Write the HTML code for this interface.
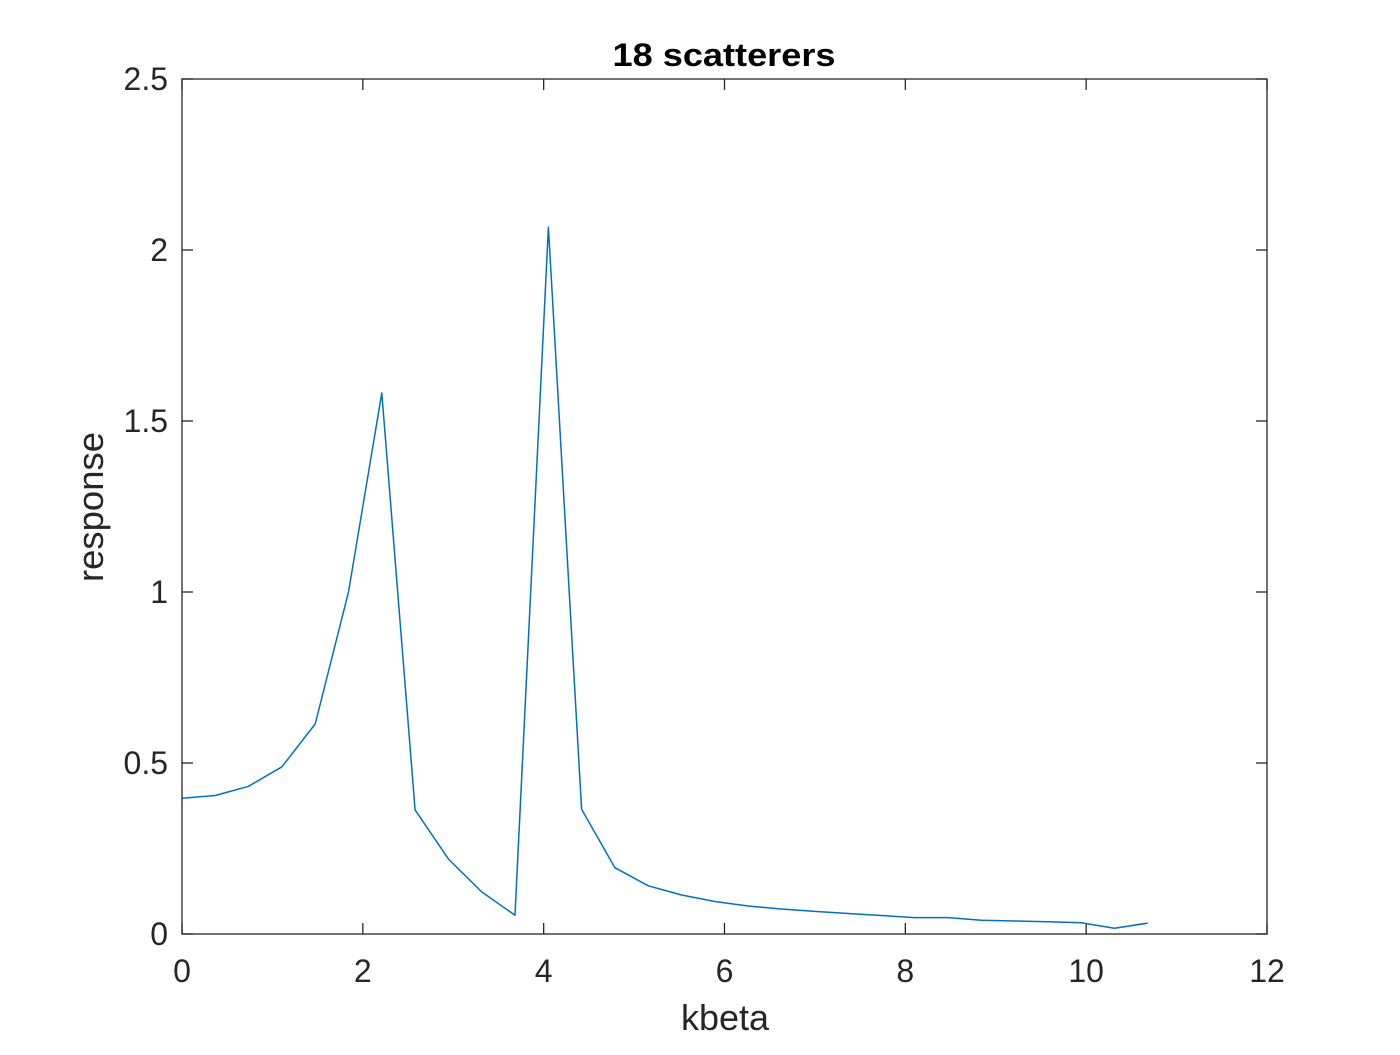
<!DOCTYPE html>
<html><head><meta charset="utf-8"><style>
html,body{margin:0;padding:0;background:#fff;}
svg text{font-family:"Liberation Sans",Arial,sans-serif;fill:#262626;}
</style></head><body>
<svg id="chart" width="1400" height="1050" xmlns="http://www.w3.org/2000/svg">
<rect x="182" y="79" width="1085" height="855" fill="#fff"/>
<g id="ticks"></g>
<polyline id="series" fill="none" stroke="#0072bd" stroke-width="1.5" stroke-linejoin="round"/>
<rect x="182" y="79" width="1085" height="855" fill="none" stroke="#262626" stroke-width="1.3"/>
<text x="724" y="66" text-anchor="middle" font-size="32" font-weight="bold" textLength="223" lengthAdjust="spacingAndGlyphs" style="fill:#000">18 scatterers</text>
<text x="725" y="1030" text-anchor="middle" font-size="36" textLength="88" lengthAdjust="spacingAndGlyphs">kbeta</text>
<text transform="translate(103,507) rotate(-90)" text-anchor="middle" font-size="36" textLength="150" lengthAdjust="spacingAndGlyphs">response</text>
</svg>
<script>
const xValues = [0,0.368,0.737,1.105,1.473,1.842,2.210,2.578,2.947,3.315,3.683,4.052,4.420,4.788,5.157,5.525,5.893,6.262,6.630,6.998,7.367,7.735,8.103,8.472,8.840,9.208,9.577,9.945,10.313,10.682];
const responseValues = [0.397,0.405,0.432,0.489,0.614,1.0,1.582,0.363,0.219,0.123,0.055,2.067,0.365,0.194,0.141,0.114,0.095,0.082,0.073,0.066,0.060,0.054,0.048,0.048,0.040,0.038,0.036,0.033,0.017,0.032];
const xTicks = [0,2,4,6,8,10,12];
const yTicks = [0,0.5,1,1.5,2,2.5];
const yTickLabels = ["0","0.5","1","1.5","2","2.5"];

const X0=182,X1=1267,Y0=934,Y1=79;
function sx(v){return X0+(v-0)/(12-0)*(X1-X0);}
function sy(v){return Y0-(v-0)/(2.5-0)*(Y0-Y1);}
const NS="http://www.w3.org/2000/svg";
const g=document.getElementById('ticks');
function line(x1,y1,x2,y2){const l=document.createElementNS(NS,'line');l.setAttribute('x1',x1);l.setAttribute('y1',y1);l.setAttribute('x2',x2);l.setAttribute('y2',y2);l.setAttribute('stroke','#262626');l.setAttribute('stroke-width','1.3');g.appendChild(l);return l;}
xTicks.forEach(t=>{
  const x=sx(t);
  const a=line(x,Y0,x,Y0-11);
  
  
  const b=line(x,Y1,x,Y1+11);
  
  
  const tx=document.createElementNS(NS,'text');
  tx.setAttribute('x',x);tx.setAttribute('y',Y0+48);tx.setAttribute('text-anchor','middle');tx.setAttribute('font-size','32');
  tx.textContent=String(t);
  
  
  g.appendChild(tx);
});
yTicks.forEach((t,i)=>{
  const y=sy(t);
  const a=line(X0,y,X0+11,y);
  
  
  const b=line(X1,y,X1-11,y);
  
  
  const tx=document.createElementNS(NS,'text');
  tx.setAttribute('x',X0-14);tx.setAttribute('y',y+11);tx.setAttribute('text-anchor','end');tx.setAttribute('font-size','32');
  tx.textContent=yTickLabels[i];
  
  
  g.appendChild(tx);
});
document.getElementById('series').setAttribute('points',xValues.map((x,i)=>sx(x).toFixed(1)+','+sy(responseValues[i]).toFixed(1)).join(' '));
</script>
</body></html>
